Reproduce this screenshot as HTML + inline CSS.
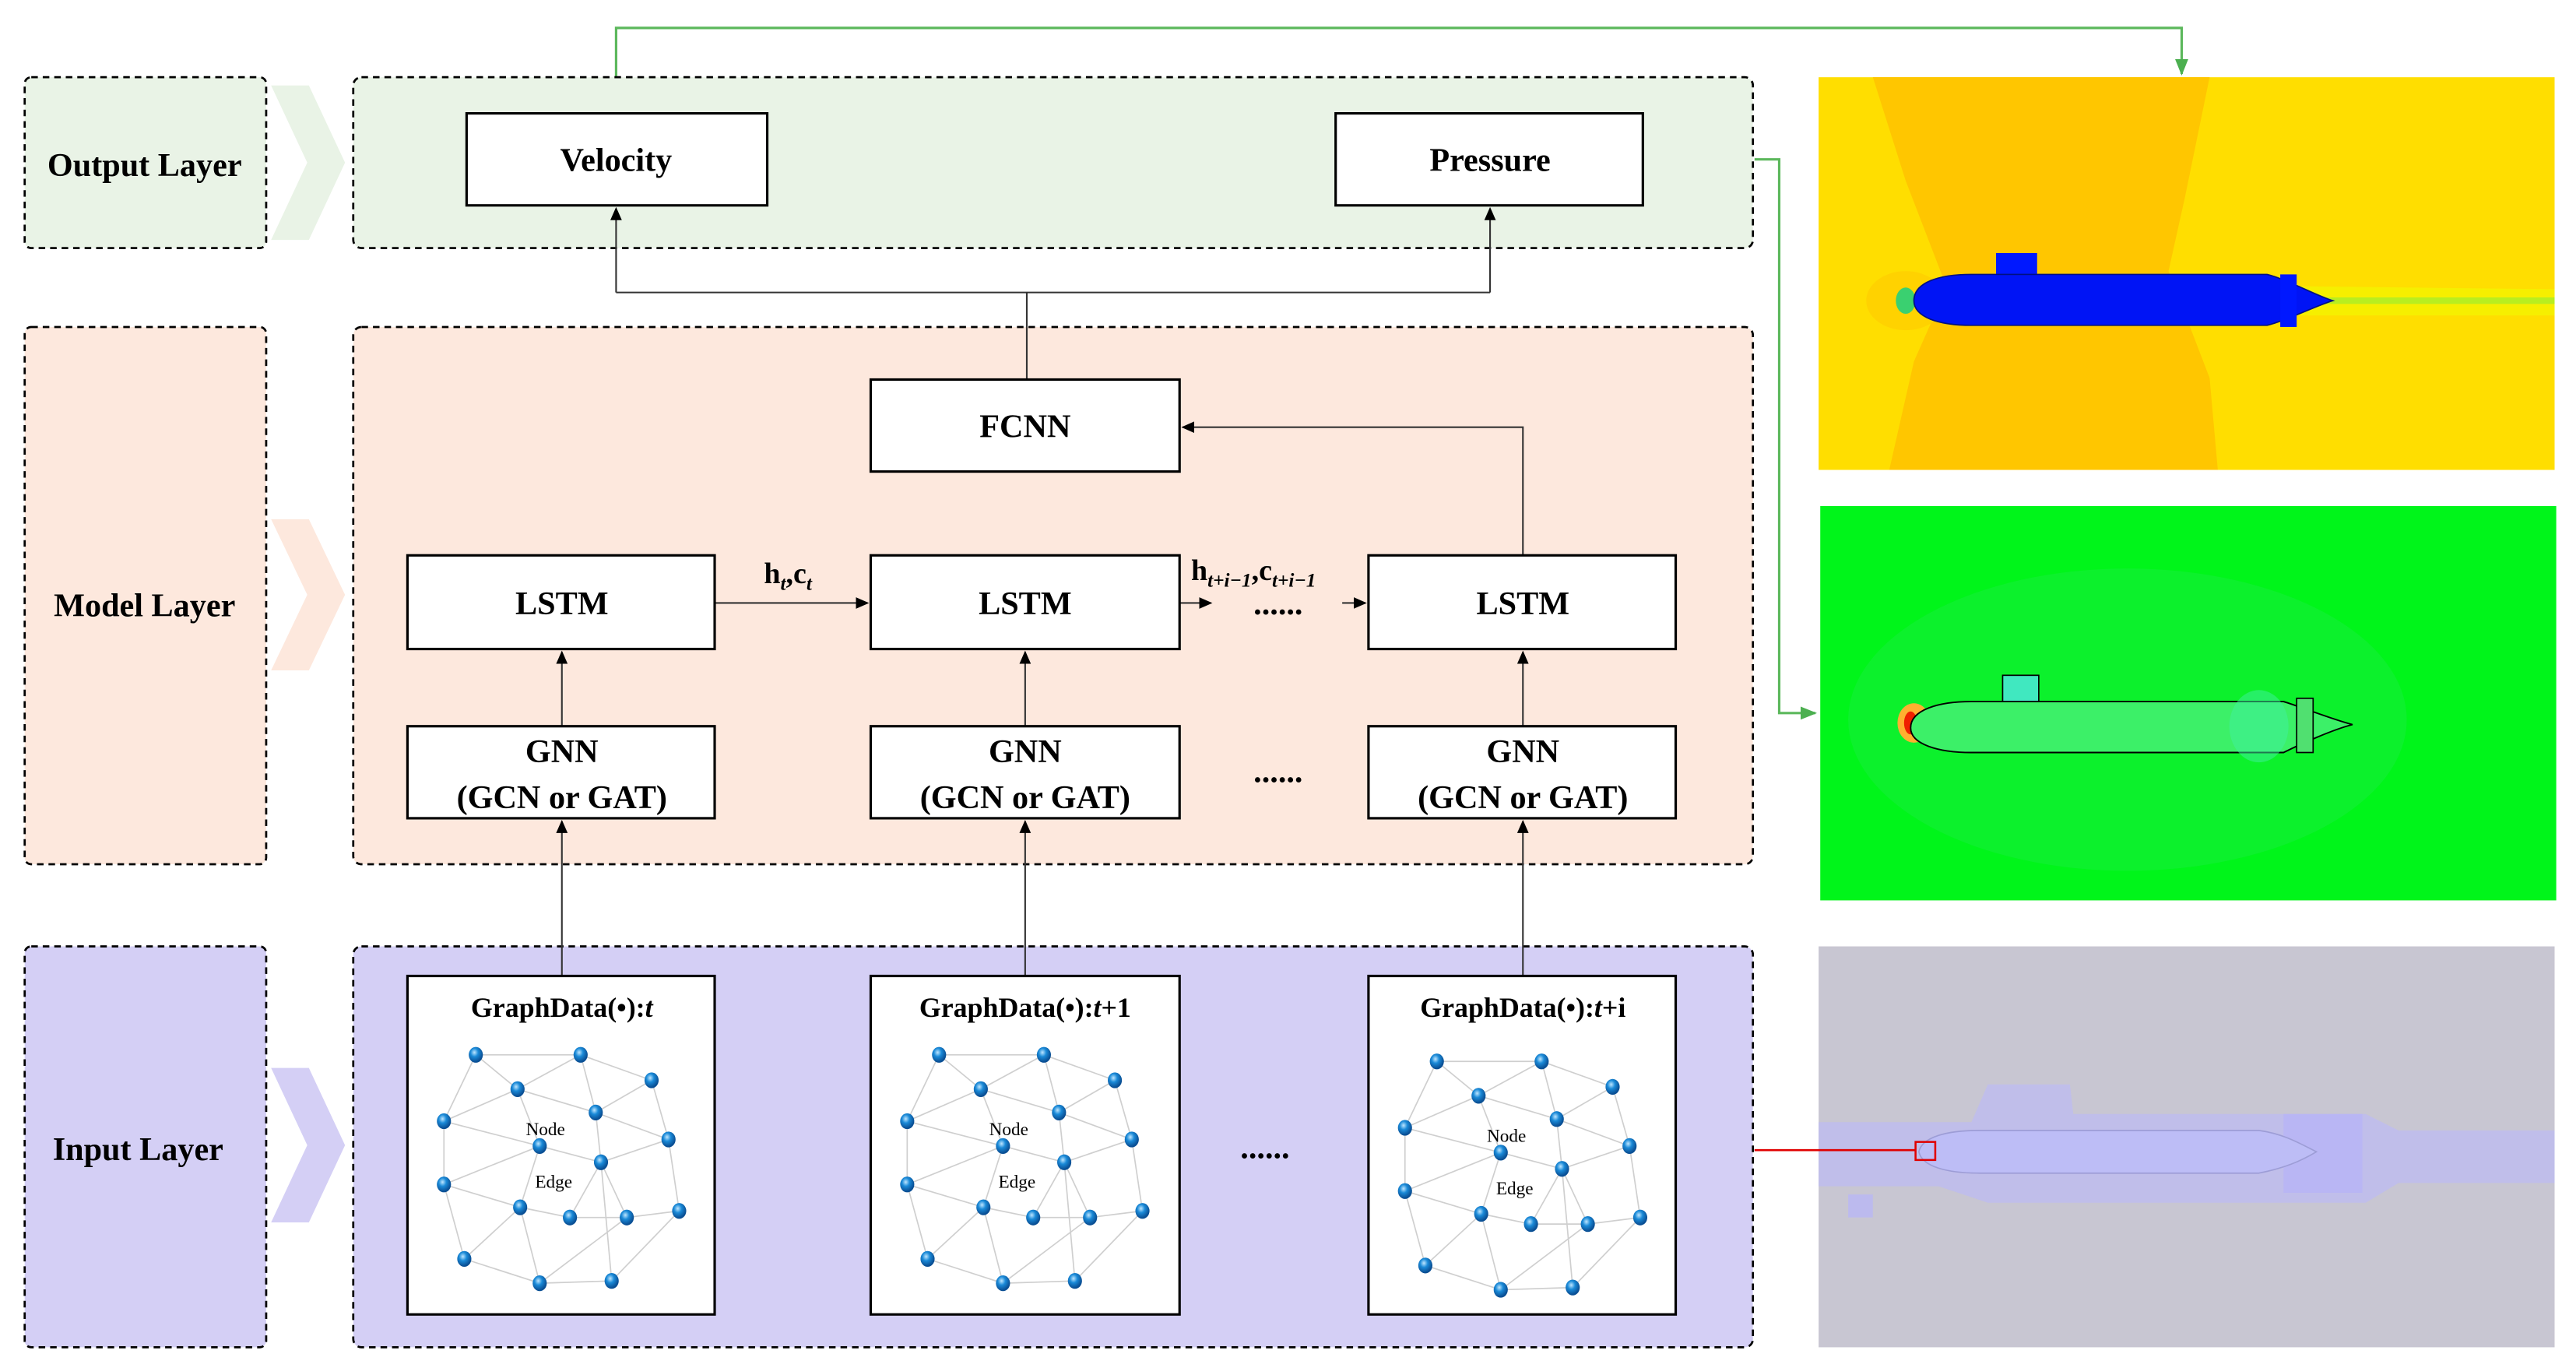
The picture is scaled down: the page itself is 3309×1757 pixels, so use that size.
<!DOCTYPE html>
<html><head><meta charset="utf-8"><style>
html,body{margin:0;padding:0;background:#fff}
svg{display:block}
text{font-family:"Liberation Serif",serif;font-weight:bold;fill:#000}
text.n{font-weight:normal}
</style></head><body>
<svg width="3309" height="1757" viewBox="0 0 1568 832.6" xmlns="http://www.w3.org/2000/svg">
<defs>
<marker id="ab" markerWidth="8" markerHeight="8" refX="7" refY="4" orient="auto" markerUnits="userSpaceOnUse"><path d="M0,0.5 L8,4 L0,7.5 z" fill="#000"/></marker>
<marker id="ag" markerWidth="10" markerHeight="10" refX="9" refY="5" orient="auto" markerUnits="userSpaceOnUse"><path d="M0,1 L10,5 L0,9 z" fill="#4caf50"/></marker>
<radialGradient id="nd" cx="40%" cy="35%" r="60%"><stop offset="0" stop-color="#bfe6ff"/><stop offset="0.45" stop-color="#1a8ad8"/><stop offset="1" stop-color="#0a4f94"/></radialGradient>
<g id="graph">
<g stroke="#cfcfcf" stroke-width="0.8" fill="none">
<path d="M289.6,642 L353.4,642 M289.6,642 L315,662.9 M289.6,642 L270.2,682.4 M353.4,642 L315,662.9 M353.4,642 L396.6,657.5 M353.4,642 L362.6,677.1 M396.6,657.5 L406.9,693.5 M396.6,657.5 L362.6,677.1 M315,662.9 L270.2,682.4 M315,662.9 L362.6,677.1 M315,662.9 L328.5,697.5 M362.6,677.1 L406.9,693.5 M362.6,677.1 L365.8,707.4 M270.2,682.4 L328.5,697.5 M270.2,682.4 L270.2,720.9 M406.9,693.5 L365.8,707.4 M406.9,693.5 L413.4,737 M328.5,697.5 L365.8,707.4 M328.5,697.5 L270.2,720.9 M328.5,697.5 L316.6,734.8 M365.8,707.4 L346.9,741 M365.8,707.4 L381.5,741 M270.2,720.9 L316.6,734.8 M270.2,720.9 L282.6,766.2 M316.6,734.8 L346.9,741 M316.6,734.8 L328.5,781 M346.9,741 L381.5,741 M381.5,741 L413.4,737 M381.5,741 L328.5,781 M365.8,707.4 L372.3,779.6 M413.4,737 L372.3,779.6 M282.6,766.2 L328.5,781 M328.5,781 L372.3,779.6 M316.6,734.8 L282.6,766.2"/>
</g>
<g fill="url(#nd)">
<ellipse cx="289.6" cy="642" rx="4.3" ry="4.8"/><ellipse cx="353.4" cy="642" rx="4.3" ry="4.8"/><ellipse cx="396.6" cy="657.5" rx="4.3" ry="4.8"/><ellipse cx="315" cy="662.9" rx="4.3" ry="4.8"/><ellipse cx="362.6" cy="677.1" rx="4.3" ry="4.8"/><ellipse cx="270.2" cy="682.4" rx="4.3" ry="4.8"/><ellipse cx="406.9" cy="693.5" rx="4.3" ry="4.8"/><ellipse cx="328.5" cy="697.5" rx="4.3" ry="4.8"/><ellipse cx="365.8" cy="707.4" rx="4.3" ry="4.8"/><ellipse cx="270.2" cy="720.9" rx="4.3" ry="4.8"/><ellipse cx="316.6" cy="734.8" rx="4.3" ry="4.8"/><ellipse cx="346.9" cy="741" rx="4.3" ry="4.8"/><ellipse cx="381.5" cy="741" rx="4.3" ry="4.8"/><ellipse cx="413.4" cy="737" rx="4.3" ry="4.8"/><ellipse cx="282.6" cy="766.2" rx="4.3" ry="4.8"/><ellipse cx="328.5" cy="781" rx="4.3" ry="4.8"/><ellipse cx="372.3" cy="779.6" rx="4.3" ry="4.8"/>
</g>
<text class="n" x="332" y="691" font-size="11" text-anchor="middle">Node</text>
<text class="n" x="337" y="723" font-size="11" text-anchor="middle">Edge</text>
</g>
</defs>

<polyline points="375,47 375,17 1328,17 1328,45" fill="none" stroke="#5cb85c" stroke-width="1.5" marker-end="url(#ag)"/>
<polyline points="1068,97 1083,97 1083,434 1105,434" fill="none" stroke="#5cb85c" stroke-width="1.5" marker-end="url(#ag)"/>

<rect x="15" y="47" width="147" height="104" rx="4" fill="#e9f3e6" stroke="#000" stroke-width="1.3" stroke-dasharray="4,3"/>
<rect x="15" y="199" width="147" height="327" rx="4" fill="#fde8dd" stroke="#000" stroke-width="1.3" stroke-dasharray="4,3"/>
<rect x="15" y="576" width="147" height="244" rx="4" fill="#d4cff5" stroke="#000" stroke-width="1.3" stroke-dasharray="4,3"/>
<text x="88" y="107" font-size="20" text-anchor="middle">Output Layer</text>
<text x="88" y="375" font-size="20" text-anchor="middle">Model Layer</text>
<text x="84" y="706" font-size="20" text-anchor="middle">Input Layer</text>

<polygon points="165,52 188,52 210,99 188,146 165,146 187,99" fill="#e9f3e6"/>
<polygon points="165,316 188,316 210,362 188,408 165,408 187,362" fill="#fde8dd"/>
<polygon points="165,650 188,650 210,697 188,744 165,744 187,697" fill="#d4cff5"/>

<rect x="215" y="47" width="852" height="104" rx="5" fill="#e9f3e6" stroke="#000" stroke-width="1.3" stroke-dasharray="4,3"/>
<rect x="215" y="199" width="852" height="327" rx="5" fill="#fde8dd" stroke="#000" stroke-width="1.3" stroke-dasharray="4,3"/>
<rect x="215" y="576" width="852" height="244" rx="5" fill="#d4cff5" stroke="#000" stroke-width="1.3" stroke-dasharray="4,3"/>

<g stroke="#333" stroke-width="1" fill="none">
<polyline points="625,231 625,178"/>
<polyline points="375,178 907,178"/>
<line x1="375" y1="178" x2="375" y2="127" marker-end="url(#ab)"/>
<line x1="907" y1="178" x2="907" y2="127" marker-end="url(#ab)"/>
<polyline points="927,338 927,260 720,260" marker-end="url(#ab)"/>
<line x1="435" y1="367" x2="528" y2="367" marker-end="url(#ab)"/>
<line x1="718" y1="367" x2="737" y2="367" marker-end="url(#ab)"/>
<line x1="817" y1="367" x2="831" y2="367" marker-end="url(#ab)"/>
<line x1="342" y1="442" x2="342" y2="397" marker-end="url(#ab)"/>
<line x1="624" y1="442" x2="624" y2="397" marker-end="url(#ab)"/>
<line x1="927" y1="442" x2="927" y2="397" marker-end="url(#ab)"/>
<line x1="342" y1="594" x2="342" y2="500" marker-end="url(#ab)"/>
<line x1="624" y1="594" x2="624" y2="500" marker-end="url(#ab)"/>
<line x1="927" y1="594" x2="927" y2="500" marker-end="url(#ab)"/>
</g>

<g fill="#fff" stroke="#000" stroke-width="1.5">
<rect x="284" y="69" width="183" height="56"/>
<rect x="813" y="69" width="187" height="56"/>
<rect x="530" y="231" width="188" height="56"/>
<rect x="248" y="338" width="187" height="57"/>
<rect x="530" y="338" width="188" height="57"/>
<rect x="833" y="338" width="187" height="57"/>
<rect x="248" y="442" width="187" height="56"/>
<rect x="530" y="442" width="188" height="56"/>
<rect x="833" y="442" width="187" height="56"/>
<rect x="248" y="594" width="187" height="206"/>
<rect x="530" y="594" width="188" height="206"/>
<rect x="833" y="594" width="187" height="206"/>
</g>
<g font-size="20" text-anchor="middle">
<text x="375" y="104">Velocity</text>
<text x="907" y="104">Pressure</text>
<text x="624" y="266">FCNN</text>
<text x="342" y="374">LSTM</text>
<text x="624" y="374">LSTM</text>
<text x="927" y="374">LSTM</text>
<text x="342" y="464">GNN</text><text x="342" y="492">(GCN or GAT)</text>
<text x="624" y="464">GNN</text><text x="624" y="492">(GCN or GAT)</text>
<text x="927" y="464">GNN</text><text x="927" y="492">(GCN or GAT)</text>
<text x="778" y="374">......</text>
<text x="778" y="476">......</text>
<text x="770" y="705">......</text>
</g>
<text x="465" y="355" font-size="18">h<tspan font-style="italic" font-size="12" dy="4">t</tspan><tspan dy="-4">,c</tspan><tspan font-style="italic" font-size="12" dy="4">t</tspan></text>
<text x="725" y="353" font-size="18">h<tspan font-style="italic" font-size="12" dy="4">t+i−1</tspan><tspan dy="-4">,c</tspan><tspan font-style="italic" font-size="12" dy="4">t+i−1</tspan></text>

<g font-size="17" text-anchor="middle">
<text x="342" y="619">GraphData(•):<tspan font-style="italic">t</tspan></text>
<text x="624" y="619">GraphData(•):<tspan font-style="italic">t</tspan>+1</text>
<text x="927" y="619">GraphData(•):<tspan font-style="italic">t</tspan>+i</text>
</g>
<use href="#graph"/>
<use href="#graph" transform="translate(282,0)"/>
<use href="#graph" transform="translate(585,4)"/>

<rect x="1107" y="47" width="448" height="239" fill="#ffde00"/>
<path d="M1140,47 L1345,47 L1330,120 L1320,165 L1345,230 L1350,286 L1150,286 L1165,220 L1185,175 L1160,110 z" fill="#ffc600"/>
<ellipse cx="1160" cy="183" rx="24" ry="18" fill="#ffd200"/>
<polygon points="1380,174 1555,176 1555,192 1380,192" fill="#f4f200" opacity="0.8"/>
<polygon points="1400,181 1555,181 1555,185 1400,185" fill="#b8ee20"/>
<ellipse cx="1160" cy="183" rx="6" ry="8" fill="#3ad070"/>
<rect x="1215" y="154" width="25" height="16" fill="#0018ff"/>
<path d="M1165,183 C1165,172 1180,167 1200,167 L1380,167 C1392,170 1410,180 1420,183 C1410,186 1392,195 1380,198 L1200,198 C1180,198 1165,193 1165,183 z" fill="#0014f5" stroke="#001080" stroke-width="0.8"/>
<rect x="1388" y="167" width="10" height="32" fill="#0018ff"/>

<rect x="1108" y="308" width="448" height="240" fill="#00f51a"/>
<ellipse cx="1295" cy="438" rx="170" ry="92" fill="#14ee38" opacity="0.6"/>
<ellipse cx="1165" cy="440" rx="10" ry="12" fill="#ffb030"/>
<ellipse cx="1163" cy="440" rx="4" ry="7" fill="#f02000"/>
<rect x="1219" y="411" width="22" height="17" fill="#40e8c0" stroke="#000" stroke-width="0.8"/>
<path d="M1163,443 C1163,432 1180,427 1200,427 L1390,427 C1400,430 1420,438 1432,441 C1420,444 1400,453 1390,458 L1200,458 C1180,458 1163,453 1163,443 z" fill="#3cf068" stroke="#000" stroke-width="0.9"/>
<ellipse cx="1375" cy="442" rx="18" ry="22" fill="#40f0a0" opacity="0.5"/>
<rect x="1398" y="425" width="10" height="33" fill="#50e070" stroke="#000" stroke-width="0.8"/>

<rect x="1107" y="576" width="448" height="244" fill="#c8c6d2"/>
<path d="M1107,683 L1200,683 L1210,660 L1260,660 L1262,678 L1440,678 L1460,688 L1555,688 L1555,720 L1460,720 L1440,732 L1210,732 L1180,722 L1107,722 z" fill="#c0beea"/>
<rect x="1125" y="727" width="15" height="14" fill="#bcbaee"/>
<rect x="1390" y="678" width="48" height="48" fill="#b6b4f6" opacity="0.8"/>
<path d="M1168,701 C1170,692 1185,688 1205,688 L1375,688 C1390,690 1400,696 1410,701 C1400,707 1390,711 1375,714 L1205,714 C1185,714 1170,710 1168,701 z" fill="#bdbdf6" stroke="#9d9dd6" stroke-width="0.8"/>
<line x1="1068" y1="700" x2="1166" y2="700" stroke="#e00000" stroke-width="1.2"/>
<rect x="1166" y="695" width="12" height="11" fill="none" stroke="#e00000" stroke-width="1.2"/>
</svg>
</body></html>
